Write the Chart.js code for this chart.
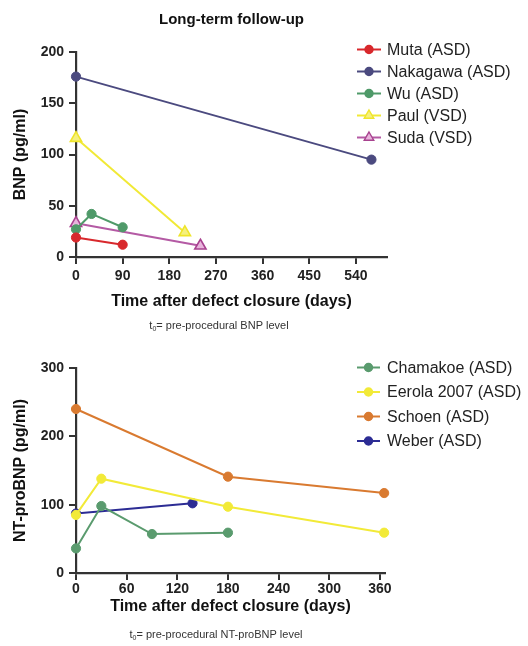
<!DOCTYPE html>
<html><head><meta charset="utf-8">
<script src="https://cdn.jsdelivr.net/npm/chart.js@4.4.1/dist/chart.umd.min.js"></script>
<style>
html,body{margin:0;padding:0;background:#fff;}
#wrap{width:528px;height:646px;position:relative;overflow:hidden;background:#fff;}
canvas{display:block;}
</style></head><body>
<div id="wrap">
<canvas id="c1" width="528" height="340"></canvas>
<canvas id="c2" width="528" height="306"></canvas>
</div>
<script>
// ---------- Data: BNP (top chart) ----------
const bnpXTicks = [0, 90, 180, 270, 360, 450, 540];
const bnpYTicks = [0, 50, 100, 150, 200];
const mutaDays = [0, 90];
const mutaBNP = [19, 12];
const nakagawaDays = [0, 570];
const nakagawaBNP = [176, 95];
const wuDays = [0, 30, 90];
const wuBNP = [27, 42, 29];
const paulDays = [0, 210];
const paulBNP = [116, 24];
const sudaDays = [0, 240];
const sudaBNP = [33, 11];

// ---------- Data: NT-proBNP (bottom chart) ----------
const ntXTicks = [0, 60, 120, 180, 240, 300, 360];
const ntYTicks = [0, 100, 200, 300];
const chamakoeDays = [0, 30, 90, 180];
const chamakoeNT = [36, 98, 57, 59];
const eerolaDays = [0, 30, 180, 365];
const eerolaNT = [85, 138, 97, 59];
const schoenDays = [0, 180, 365];
const schoenNT = [240, 141, 117];
const weberDays = [0, 138];
const weberNT = [87, 102];

// ---------- Helpers ----------
const FONT = "'Liberation Sans', Arial, Helvetica, sans-serif";
const AX = '#333333';

function pts(xs, ys) { return xs.map((x, i) => ({x: x, y: ys[i]})); }

function ds(label, xs, ys, color, style, fill, border) {
  const tri = style === 'triangle';
  return {
    label: label,
    data: pts(xs, ys),
    borderColor: color,
    backgroundColor: fill || color,
    pointBackgroundColor: fill || color,
    pointBorderColor: border || color,
    pointStyle: style,
    pointRadius: tri ? 6.5 : 4.6,
    pointBorderWidth: tri ? 1.6 : 1,
    borderWidth: 2,
    tension: 0,
    clip: false,
    fill: false
  };
}

function makeScales(o) {
  const grid = {display: true, drawOnChartArea: false, drawTicks: true, tickLength: 7,
    tickWidth: 2, tickColor: AX, color: AX, lineWidth: 2};
  const border = {display: true, color: AX, width: 2.2};
  return {
    x: {
      type: 'linear', min: 0, max: o.xMax,
      afterBuildTicks: s => { s.ticks = o.xTicks.map(v => ({value: v})); },
      afterFit: s => { s.height = o.xAxisH; },
      grid: grid, border: border,
      ticks: {font: {family: FONT, size: 14, weight: 'bold'}, color: '#222', padding: o.xTickPad,
        maxRotation: 0, autoSkip: false},
      title: {display: true, text: o.xTitle, font: {family: FONT, size: 16, weight: 'bold'},
        color: '#111', padding: 0}
    },
    y: {
      type: 'linear', min: 0, max: o.yMax,
      afterBuildTicks: s => { s.ticks = o.yTicks.map(v => ({value: v})); },
      afterFit: s => { s.width = 76; },
      grid: grid, border: border,
      ticks: {font: {family: FONT, size: 14, weight: 'bold'}, color: '#222', padding: 5},
      title: {display: true, text: o.yTitle, font: {family: FONT, size: 16, weight: 'bold'},
        color: '#111', padding: {top: 11, bottom: 0}}
    }
  };
}

const decoPlugin = {
  id: 'deco',
  afterDraw(chart, args, o) {
    const ctx = chart.ctx;
    const ca = chart.chartArea;
    ctx.save();
    // main title
    if (o.title) {
      ctx.font = 'bold 15px ' + FONT;
      ctx.fillStyle = '#111';
      ctx.textAlign = 'center';
      ctx.textBaseline = 'middle';
      ctx.fillText(o.title, (ca.left + ca.right) / 2, o.titleY);
    }
    // subtitle with subscript 0
    if (o.sub) {
      ctx.textBaseline = 'middle';
      ctx.textAlign = 'left';
      ctx.fillStyle = '#333';
      ctx.font = '11px ' + FONT;
      const wT = ctx.measureText('t').width;
      const wRest = ctx.measureText(o.sub).width;
      ctx.font = '7px ' + FONT;
      const w0 = ctx.measureText('0').width;
      const total = wT + w0 + wRest;
      let x = o.subX - total / 2;
      ctx.font = '11px ' + FONT;
      ctx.fillText('t', x, o.subY);
      x += wT;
      ctx.font = '7px ' + FONT;
      ctx.fillText('0', x, o.subY + 3);
      x += w0;
      ctx.font = '11px ' + FONT;
      ctx.fillText(o.sub, x, o.subY);
    }
    // legend
    chart.data.datasets.forEach((d, i) => {
      const y = o.ly0 + i * o.ldy;
      const cx = o.lx0 + o.llen / 2;
      ctx.strokeStyle = d.borderColor;
      ctx.lineWidth = 2;
      ctx.beginPath();
      ctx.moveTo(o.lx0, y);
      ctx.lineTo(o.lx0 + o.llen, y);
      ctx.stroke();
      ctx.fillStyle = d.pointBackgroundColor;
      ctx.strokeStyle = d.pointBorderColor;
      ctx.lineWidth = 1.4;
      ctx.beginPath();
      if (d.pointStyle === 'triangle') {
        const r = 5.5;
        ctx.moveTo(cx, y - r);
        ctx.lineTo(cx + r * 0.866, y + r / 2);
        ctx.lineTo(cx - r * 0.866, y + r / 2);
        ctx.closePath();
      } else {
        ctx.arc(cx, y, 4, 0, Math.PI * 2);
      }
      ctx.fill();
      ctx.stroke();
      ctx.fillStyle = '#222';
      ctx.font = '16px ' + FONT;
      ctx.textAlign = 'left';
      ctx.textBaseline = 'middle';
      ctx.fillText(d.label, o.ltx, y + 1);
    });
    ctx.restore();
  }
};

const common = {
  responsive: false,
  animation: false,
  devicePixelRatio: 1,
  events: []
};

new Chart(document.getElementById('c1'), {
  type: 'line',
  data: {
    datasets: [
      ds('Muta (ASD)', mutaDays, mutaBNP, '#d8282c', 'circle'),
      ds('Nakagawa (ASD)', nakagawaDays, nakagawaBNP, '#4b4a7f', 'circle'),
      ds('Wu (ASD)', wuDays, wuBNP, '#4f9a69', 'circle'),
      ds('Paul (VSD)', paulDays, paulBNP, '#f1e936', 'triangle', '#f5f07e', '#efe52a'),
      ds('Suda (VSD)', sudaDays, sudaBNP, '#b45aa4', 'triangle', '#e8b4dc', '#a8428f')
    ]
  },
  options: Object.assign({}, common, {
    layout: {padding: {top: 52, right: 141, bottom: 29, left: 0}},
    scales: makeScales({xMax: 600, yMax: 200, xTicks: bnpXTicks, yTicks: bnpYTicks,
      xTitle: 'Time after defect closure (days)', yTitle: 'BNP (pg/ml)', xAxisH: 54, xTickPad: 4}),
    plugins: {
      legend: {display: false},
      tooltip: {enabled: false},
      deco: {title: 'Long-term follow-up', titleY: 20,
        sub: '= pre-procedural BNP level', subX: 219, subY: 326,
        lx0: 357, llen: 24, ltx: 387, ly0: 49.5, ldy: 22}
    }
  }),
  plugins: [decoPlugin]
});

new Chart(document.getElementById('c2'), {
  type: 'line',
  data: {
    datasets: [
      ds('Chamakoe (ASD)', chamakoeDays, chamakoeNT, '#5a9b6e', 'circle'),
      ds('Eerola 2007 (ASD)', eerolaDays, eerolaNT, '#f2ea38', 'circle'),
      ds('Schoen (ASD)', schoenDays, schoenNT, '#d97a30', 'circle'),
      ds('Weber (ASD)', weberDays, weberNT, '#2c2c94', 'circle')
    ]
  },
  options: Object.assign({}, common, {
    layout: {padding: {top: 28, right: 143, bottom: 29.4, left: 0}},
    scales: makeScales({xMax: 366, yMax: 300, xTicks: ntXTicks, yTicks: ntYTicks,
      xTitle: 'Time after defect closure (days)', yTitle: 'NT-proBNP (pg/ml)', xAxisH: 43.6, xTickPad: 1}),
    plugins: {
      legend: {display: false},
      tooltip: {enabled: false},
      deco: {title: null, sub: '= pre-procedural NT-proBNP level', subX: 216, subY: 295,
        lx0: 357, llen: 23, ltx: 387, ly0: 27.5, ldy: 24.5}
    }
  }),
  plugins: [decoPlugin]
});
</script>
</body></html>
